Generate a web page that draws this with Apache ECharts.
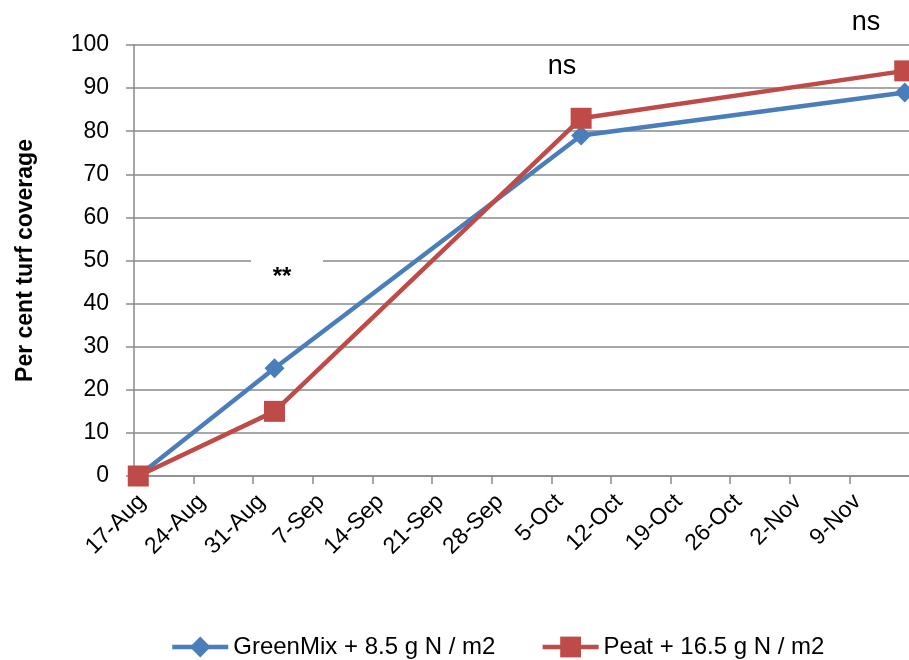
<!DOCTYPE html>
<html>
<head>
<meta charset="utf-8">
<script src="https://cdn.jsdelivr.net/npm/echarts@6/dist/echarts.min.js"></script>
<style>
    html, body { margin: 0; padding: 0; background: #fff; }
    #chart { width: 909px; height: 660px; }
</style>
</head>
<body>
<div id="chart"></div>
<script>
/* turf coverage over the season, two growing media */

const startDate = '2010-08-17';
const endDate = '2010-11-16';
const sampleDates = ['2010-08-17', '2010-09-02', '2010-10-08', '2010-11-15'];
const greenMix = [0, 25, 79, 89];
const peat = [0, 15, 83, 94];
const seriesNames = ['GreenMix + 8.5 g N / m2', 'Peat + 16.5 g N / m2'];
const notes = ['**', 'ns', 'ns'];
const MONTHS = ['Jan', 'Feb', 'Mar', 'Apr', 'May', 'Jun', 'Jul', 'Aug', 'Sep', 'Oct', 'Nov', 'Dec'];

const DAY = 86400000;
const base = Date.parse(startDate);
// excel date axis puts each point in the middle of its day slot
const dayOf = s => (Date.parse(s) - base) / DAY + 0.5;

function pairs(values) {
    return sampleDates.map((d, i) => [dayOf(d), values[i]]);
}

const FONT = 'Liberation Sans, Arial, sans-serif';
const GRAY = '#8a8a8a';

let xAxis = {
    type: 'value',
    min: 0,
    max: (Date.parse(endDate) - base) / DAY,
    interval: 7,
    axisLine: { lineStyle: { color: GRAY, width: 1.5 } },
    axisTick: { show: true, length: 8, lineStyle: { color: GRAY, width: 1.5 } },
    splitLine: { show: false },
    axisLabel: {
        rotate: 45,
        margin: 14,
        verticalAlign: 'top',
        color: '#000',
        fontSize: 23,
        fontFamily: FONT,
        showMaxLabel: false,
        formatter: function (v) {
            let d = new Date(base + v * DAY);
            return d.getUTCDate() + '-' + MONTHS[d.getUTCMonth()];
        }
    }
};
let yAxis = {
    type: 'value',
    min: 0,
    max: 100,
    interval: 10,
    name: 'Per cent turf coverage',
    nameLocation: 'middle',
    nameGap: 97,
    nameTextStyle: { color: '#000', fontSize: 23, fontWeight: 'bold', fontFamily: FONT },
    axisLine: { show: true, lineStyle: { color: GRAY, width: 1.5 } },
    axisTick: { show: true, length: 8, lineStyle: { color: GRAY, width: 1.5 } },
    splitLine: { lineStyle: { color: GRAY, width: 1.5 } },
    axisLabel: { color: '#000', fontSize: 23, fontFamily: FONT, margin: 25 }
};

let series = [{
    type: 'line',
    name: seriesNames[0],
    data: pairs(greenMix),
    symbol: 'diamond',
    symbolSize: 20,
    lineStyle: { color: '#4A7EBB', width: 4.5 },
    itemStyle: { color: '#4A7EBB' },
    z: 3
}, {
    type: 'line',
    name: seriesNames[1],
    data: pairs(peat),
    symbol: 'rect',
    symbolSize: 21,
    lineStyle: { color: '#BE4B48', width: 4.5 },
    itemStyle: { color: '#BE4B48' },
    z: 4
}];

let noteStyle = { fontSize: 27, fontFamily: FONT, fill: '#000' };
let graphic = [
    // white text box that hides the 50 % gridline behind the asterisks
    { type: 'rect', left: 251, top: 251, shape: { width: 72, height: 44 }, style: { fill: '#fff' }, z: 1 },
    { type: 'text', x: 282, y: 277, style: Object.assign({ text: notes[0], align: 'center', verticalAlign: 'middle' }, noteStyle, { fontSize: 24, fontWeight: 'bold' }), z: 5 },
    { type: 'text', x: 562, y: 67, style: Object.assign({ text: notes[1], align: 'center', verticalAlign: 'middle' }, noteStyle), z: 5 },
    { type: 'text', x: 866, y: 23, style: Object.assign({ text: notes[2], align: 'center', verticalAlign: 'middle' }, noteStyle), z: 5 }
];

let option = {
    animation: false,
    backgroundColor: '#fff',
    grid: { left: 134, right: 0, top: 45, bottom: 184, containLabel: false, outerBoundsMode: 'none' },
    legend: {
        data: seriesNames,
        left: 170,
        top: 635,
        padding: 0,
        itemGap: 45,
        itemWidth: 56,
        itemHeight: 26,
        lineStyle: { width: 4.5 },
        textStyle: { color: '#000', fontSize: 24, fontFamily: FONT }
    },
    xAxis: xAxis,
    yAxis: yAxis,
    series: series,
    graphic: graphic
};

let chart = echarts.init(document.getElementById('chart'));
chart.setOption(option);
</script>
</body>
</html>
